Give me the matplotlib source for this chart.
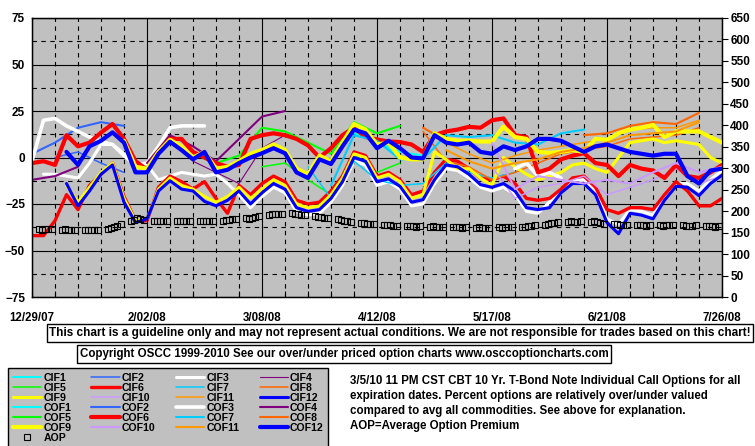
import numpy as np
import pandas as pd
import matplotlib
matplotlib.use("Agg")
import matplotlib.pyplot as plt
from matplotlib.ticker import MultipleLocator, FixedLocator

nan = np.nan
FONT = ['Liberation Sans', 'DejaVu Sans']

# ---------------- data ----------------
start = pd.Timestamp('2007-12-29')
weeks = np.arange(31)              # weekly samples 12/29/07 .. 7/26/08
half_weeks = np.arange(61) / 2.0   # half-week samples for the main series
date_ticks = ['12/29/07', '2/02/08', '3/08/08', '4/12/08', '5/17/08', '6/21/08', '7/26/08']

def seg(pairs, n=31, step=1.0):
    a = [nan] * n
    for k, v in pairs:
        a[int(round(k / step))] = v
    return a

# percent over/under valued (left axis)
cif1 = seg([(15, 10), (16, 3), (17, 1)])
cif2 = seg([(1, 0), (2, 3), (3, -3), (4, -8)])
cif3 = [nan, -9, -9, -10, -11, -3, 7, 7, 2, -3, -4, -12, -10, -8, -9, -10, -9, -14, -20, -27,
        -21, -16, -19, -29, -31, -30, -24, -15, -2, -4, -15, -13, -17, -26, -25, -14, -6, -7, -11, -16,
        -18, -16, -20, -29, -30, -24, -17, -12, -12, -18, -33, -36, -28, -29, -31, -21, -14, -14, -18, -12, -7]
cif4 = seg([(7, -2), (8, -8), (9, -14), (10, 5), (11, 12)])
cif5 = seg([(10, -5), (11, -3), (12, -12), (13, -20), (14, 2), (15, -8), (16, -3)])
cif6 = [-42, -42, -34, -20, -28, -15, -9, -3, -21, -34, -34, -16, -10, -13, -17, -13, -22, -30, -15, -20,
        -14, -10, -13, -23, -25, -24, -18, -10, 3, 1, -10, -8, -12, -20, -18, -8, -1, -2, -6, -11,
        -12, -10, -14, -22, -23, -22, -17, -11, -10, -16, -28, -30, -27, -27, -28, -20, -13, -18, -26, -26, -22]
cif7 = seg([(12, -5), (13, -22), (14, -2), (15, -12), (16, -15), (17, -14), (18, -3), (19, -8), (20, -11), (21, -8)])
cif8 = seg([(17, 14), (18, -2), (19, -5), (20, -12), (21, -8), (22, -3), (23, 2), (24, 4), (25, 6), (26, 10), (27, 11), (28, 12), (29, 16)])
cif9 = [nan, nan, nan, -15, -24, -16, -8, -3, -22, -34, -33, -17, -11, -15, -17, -21, -24, -21, -16, -22,
        -17, -12, -15, -25, -27, -26, -20, -11, 2, 0, -11, -9, -13, -22, -20, 3, -1, -6, -6, -11,
        -15, 0, -5, -9, -12, -10, -8, -4, -3, -6, -8, 0, 8, 9, 10, 8, 9, 8, 7, 0, -3]
cif10 = seg([(20, -5), (21, -22), (22, -16), (23, -14), (24, -10), (25, -20), (26, -16), (27, -12), (28, -6), (29, -14), (30, -10)])
cif11 = seg([(18, 8), (19, 2), (20, -3), (21, 1), (22, 4), (23, 6), (24, 8), (25, 10), (26, 15), (27, 16), (28, 16), (29, 20)])
cif12 = [nan, nan, nan, -14, -26, -18, -9, -4, -24, -35, -33, -18, -12.5, -17, -18, -23.6, -26, -23, -18, -25,
         -19, -14, -17, -27, -29, -28, -22, -13, 0, -2, -13, -11.5, -15.5, -24, -22.7, -12, -4, -5, -9, -14.6,
         -16, -14, -18, -27, -28, -27, -19, -14, -14, -20, -35, -41, -30, -31, -33, -23, -15.5, -16, -20.5, -14, -9.5]

cof1 = seg([(14, 13), (15, 10), (16, 0)])
cof2 = seg([(0, 2), (1, 8), (2, 16), (3, 19), (4, 17)])
cof3 = seg([(0, -2), (0.5, 20), (1, 21), (1.5, 17), (2, 14), (2.5, 11), (3, 8.6), (3.5, 7), (4, 1), (4.5, -4),
            (5, -3), (5.5, 6), (6, 16), (6.5, 17), (7, 17), (7.5, 17),
            (21, -6), (21.5, -3), (22, -10), (22.5, -8), (23, -11)], n=61, step=0.5)
cof4 = seg([(0, -12), (1, -10), (2, -5), (5, -3), (6, 12), (7, 6), (8, -2), (9, 10), (10, 22), (11, 25)])
cof5 = seg([(5, -5), (6, 9), (7, 2), (8, -3), (9, 1), (10, 16), (11, 14), (12, 8), (13, 2), (14, 19), (15, 13), (16, 17)])
cof6 = [-3, -2, -4, 12, 6, 8, 13.4, 18, 10, -2, -6.5, 3, 10, 10, 3, 0, -3, -5, -4, 10,
        12, 13, 12, 10, 6.5, 0, 5, 12, 16, 11, 9.7, 8.6, 8.3, 7, 3, 12, 14, 15, 16.5, 16,
        20, 21, 12, 11, -8, -6, -1, 1, 2.3, -3, -4, -10, -4, -6, -7, -11, -4, -10, -11, -8, -4]
cof7 = seg([(13, -15), (14, 12), (15, 9), (16, -1), (17, -1), (18, 12), (19, 11), (20, 12), (21, 8), (22, 7), (23, 13), (24, 15)])
cof8 = seg([(17, 16), (18, 9), (24, 12), (25, 13), (26, 17), (27, 19), (28, 18), (29, 24)])
cof9 = [nan, nan, nan, nan, nan, nan, nan, nan, 9, -5, -6, 3, 9.5, 6, 0, 3, -6, -5, -2, 2,
        4, 7, 4, -6, -9, 1, -2, 8, 18, 15, 7, 8, 0, -1, -1, 13, 10, 9, 9, 8.6,
        8.6, 16.6, 11, 10, 3, 2.5, 3, 4, 3, 10, 9.5, 13, 15, 16, 17.5, 11, 14, 14, 14, 11, 8]
cof10 = seg([(20, 8), (21, -17), (22, -10), (23, -12), (24, -14), (25, -12), (26, -14), (27, -8), (28, -3), (29, -8), (30, -5)])
cof11 = seg([(18, 4), (19, -2), (20, -6), (21, -3), (22, -1), (23, 3), (24, 5), (25, 8), (26, 12), (27, 13), (28, 14), (29, 19)])
cof12 = [nan, nan, nan, 3, -4, 6, 9, 13.5, 8, -8, -8, 2, 8.5, 4, -1, 3, -8, -6.6, -3, 0,
         2.3, 5, 2.3, -8, -11, -1, -3.5, 6, 15, 13, 5, 9, 5, 0, -0.5, 12, 8, 7, 8, 3,
         2, 6, 4, 6, 10, 10, 9, 6, 3, 6, 7, 5, 3, 2, 1, 2, 2, -10, -14, -7, -6]

# average option premium (right axis), one value per trading day
aop = [158, 157, 158, 159, 158, 157, 158, 156, 157, 157, 156, 157, 155, 156, 157,
       158, 160, 163, 166, 170, 176, 180, 183, 182, 180, 178, 177, 177, 178, 178,
       177, 178, 178, 177, 177, 177, 176, 177, 178, 178, 178, 179, 180, 181, 182,
       183, 182, 184, 186, 188, 191, 193, 194, 193, 194, 195, 194, 193, 192, 190,
       188, 186, 187, 185, 183, 181, 180, 178, 177, 175, 173, 172, 171, 170, 169,
       168, 167, 168, 166, 166, 165, 166, 165, 164, 165, 164, 165, 163, 164, 163,
       162, 163, 162, 161, 162, 161, 162, 161, 160, 161, 162, 161, 162, 163, 162,
       163, 164, 165, 166, 167, 168, 170, 172, 173, 174, 175, 176, 175, 174, 176,
       175, 176, 174, 172, 170, 169, 170, 168, 167, 168, 167, 168, 167, 166, 167,
       167, 166, 167, 168, 167, 167, 166, 165, 166, 167, 166, 165, 166, 164, 165]

names = ['CIF1', 'CIF2', 'CIF3', 'CIF4', 'CIF5', 'CIF6', 'CIF7', 'CIF8', 'CIF9', 'CIF10', 'CIF11', 'CIF12',
         'COF1', 'COF2', 'COF3', 'COF4', 'COF5', 'COF6', 'COF7', 'COF8', 'COF9', 'COF10', 'COF11', 'COF12']
series = [cif1, cif2, cif3, cif4, cif5, cif6, cif7, cif8, cif9, cif10, cif11, cif12,
          cof1, cof2, cof3, cof4, cof5, cof6, cof7, cof8, cof9, cof10, cof11, cof12]
colors = ['#00FFFF', '#3366FF', '#FFFFFF', '#800080', '#00FF00', '#FF0000', '#00CCFF', '#FF6600',
          '#FFFF00', '#CC99FF', '#FF9900', '#0000FF'] * 2
widths = [1.4, 1.1, 2.2, 0.8, 1.1, 2.4, 1.1, 1.1, 2.2, 1.1, 1.1, 2.2,
          1.5, 1.5, 2.6, 1.5, 1.5, 3.0, 1.5, 1.5, 3.0, 1.5, 1.5, 3.0]

# ---------------- figure ----------------
fig = plt.figure(figsize=(7.55, 4.46), dpi=100)
fig.patch.set_facecolor('white')
L, R, T, B = 32, 722, 18, 297
ax = fig.add_axes([L / 755, 1 - B / 446, (R - L) / 755, (B - T) / 446])
ax.set_facecolor('#C0C0C0')

handles = []
for nm, s, c, w in zip(names, series, colors, widths):
    xs = (half_weeks if len(s) == 61 else weeks) * 7
    h, = ax.plot(xs, s, color=c, lw=w, solid_joinstyle='round', solid_capstyle='round', label=nm, zorder=3)
    handles.append(h)

ax.set_xlim(0, 210)
ax.set_ylim(-75, 75)
ax.set_xticks(np.arange(0, 211, 35))
ax.set_xticklabels(date_ticks)
ax.xaxis.set_minor_locator(MultipleLocator(7))
ax.yaxis.set_major_locator(MultipleLocator(25))
ax.yaxis.set_minor_locator(FixedLocator(np.arange(-62.5, 75, 25)))

ax.grid(which='major', color='black', lw=0.8, ls='-', zorder=1)
ax.grid(which='minor', color='black', lw=0.8, ls=(0, (4, 4)), zorder=1)
ax.set_axisbelow(True)
for sp in ax.spines.values():
    sp.set_color('black'); sp.set_linewidth(1.0)

ax.tick_params(axis='x', which='both', direction='in', length=4, width=0.8, pad=11, labelsize=8.3)
ax.tick_params(axis='y', which='both', length=0, pad=5, labelsize=8.5)
for lab in ax.get_xticklabels() + ax.get_yticklabels():
    lab.set_family(FONT); lab.set_fontweight('bold')

ax2 = ax.twinx()
ax2.set_ylim(0, 650)
ax2.yaxis.set_major_locator(MultipleLocator(50))
days = (pd.bdate_range('2007-12-31', periods=len(aop)) - start).days
hA, = ax2.plot(days, aop, ls='none', marker='s', ms=4.2, mfc='none', mec='black', mew=0.8, label='AOP', zorder=4)
ax2.tick_params(axis='y', direction='out', length=4, width=0.8, pad=2, labelsize=8.5)
for lab in ax2.get_yticklabels():
    lab.set_family(FONT); lab.set_fontweight('bold')
ax2.set_xlim(0, 210)

# ---------------- legend ----------------
ordh, ordl = [], []
for col in range(4):
    for r in range(6):
        ordh.append(handles[r * 4 + col]); ordl.append(names[r * 4 + col])
    if col == 0:
        ordh.append(hA); ordl.append('AOP')
leg = fig.legend(ordh, ordl, ncol=4, loc='upper left', bbox_to_anchor=(8 / 755, 1 - 368 / 446),
                 frameon=True, fancybox=False, shadow=False, facecolor='#C0C0C0', edgecolor='black',
                 framealpha=1, prop={'family': FONT, 'weight': 'bold', 'size': 7.6},
                 handlelength=2.7, handletextpad=0.2, columnspacing=1.9, labelspacing=0.0,
                 borderpad=0.45, numpoints=1, borderaxespad=0)
leg.get_frame().set_linewidth(1.0)

# ---------------- texts ----------------
fig.text(400 / 755, 1 - 333 / 446,
         'This chart is a guideline only and may not represent actual conditions. We are not responsible for trades based on this chart!',
         ha='center', va='center', family=FONT, weight='bold', fontsize=8.45,
         bbox=dict(boxstyle='square,pad=0.22', fc='white', ec='black', lw=1.0))
fig.text(344 / 755, 1 - 354 / 446,
         'Copyright OSCC 1999-2010 See our over/under priced option charts www.osccoptioncharts.com',
         ha='center', va='center', family=FONT, weight='bold', fontsize=8.3,
         bbox=dict(boxstyle='square,pad=0.22', fc='white', ec='black', lw=1.0))
info = ['3/5/10 11 PM CST CBT 10 Yr. T-Bond Note Individual Call Options for all',
        'expiration dates. Percent options are relatively over/under valued',
        'compared to avg all commodities. See above for explanation.',
        'AOP=Average Option Premium']
for i, line in enumerate(info):
    fig.text(350 / 755, 1 - (381 + 15 * i) / 446, line, ha='left', va='center',
             family=FONT, weight='bold', fontsize=8.3)

fig.savefig('out.png', dpi=100, facecolor='white')
